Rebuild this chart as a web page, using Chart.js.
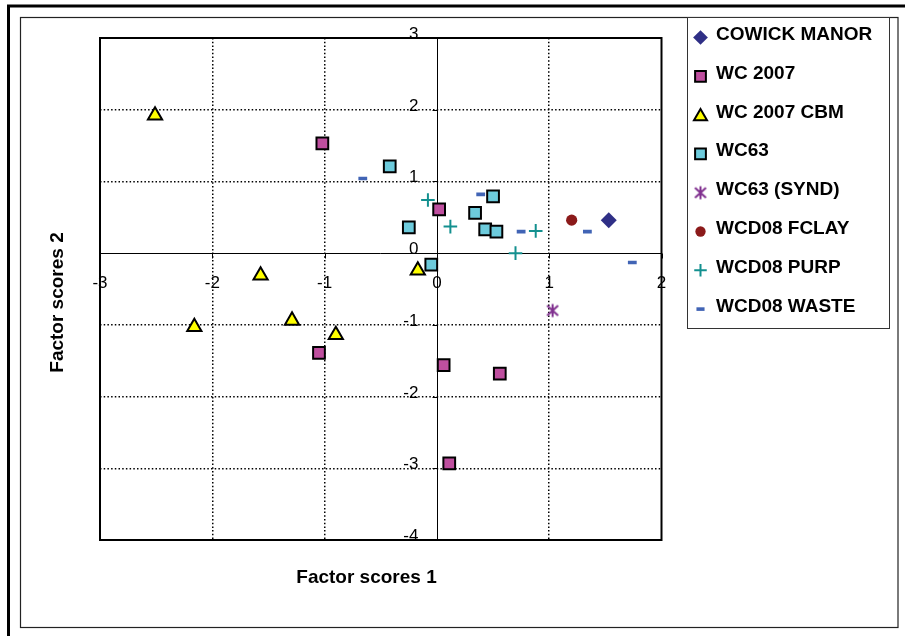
<!DOCTYPE html>
<html>
<head>
<meta charset="utf-8">
<script src="https://cdn.jsdelivr.net/npm/chart.js@4/dist/chart.umd.min.js"></script>
<style>
  html, body { margin: 0; padding: 0; background: #fff; }
  #wrap { position: relative; width: 905px; height: 636px; }
</style>
</head>
<body>
<div id="wrap"><canvas id="c" width="905" height="636"></canvas></div>
<script>
// Factor score pairs per sample group
const seriesNames = ['COWICK MANOR', 'WC 2007', 'WC 2007 CBM', 'WC63', 'WC63 (SYND)', 'WCD08 FCLAY', 'WCD08 PURP', 'WCD08 WASTE'];

const cowickManorX = [1.53];
const cowickManorY = [0.46];

const wc2007X = [-1.02, 0.02, -1.05, 0.06, 0.56, 0.11];
const wc2007Y = [1.53, 0.61, -1.39, -1.56, -1.68, -2.93];

const wc2007CbmX = [-2.51, -1.57, -2.16, -1.29, -0.90, -0.17];
const wc2007CbmY = [1.92, -0.31, -1.03, -0.94, -1.14, -0.24];

const wc63X = [-0.42, -0.25, -0.05, 0.34, 0.43, 0.50, 0.53];
const wc63Y = [1.21, 0.36, -0.16, 0.56, 0.33, 0.79, 0.30];

const wc63SyndX = [1.03];
const wc63SyndY = [-0.80];

const wcd08FclayX = [1.20];
const wcd08FclayY = [0.46];

const wcd08PurpX = [-0.08, 0.12, 0.70, 0.88];
const wcd08PurpY = [0.74, 0.37, 0.00, 0.31];

const wcd08WasteX = [-0.66, 0.39, 0.75, 1.34, 1.74];
const wcd08WasteY = [1.04, 0.82, 0.30, 0.30, -0.13];

const xTickLabels = ['-3', '-2', '-1', '0', '1', '2'];
const yTickLabels = ['3', '2', '1', '0', '-1', '-2', '-3', '-4'];
const xAxisTitle = 'Factor scores 1';
const yAxisTitle = 'Factor scores 2';

const FONT = '"Liberation Sans", Arial, Helvetica, sans-serif';

const toPoints = (xs, ys) => xs.map((x, i) => ({ x: x, y: ys[i] }));

// six-armed asterisk marker
function asteriskMarker(color) {
  const c = document.createElement('canvas');
  c.width = 16; c.height = 16;
  const g = c.getContext('2d');
  g.strokeStyle = color;
  g.lineWidth = 2;
  g.beginPath();
  g.moveTo(2.5, 3); g.lineTo(13.5, 13);
  g.moveTo(13.5, 3); g.lineTo(2.5, 13);
  g.moveTo(8, 1.5); g.lineTo(8, 14.5);
  g.stroke();
  return c;
}

const markerStyles = [
  { pointStyle: 'rectRot', radius: 8, backgroundColor: '#2F2F86', borderColor: '#2F2F86', borderWidth: 0 },
  { pointStyle: 'rect', radius: 8.3, backgroundColor: '#BF4F9F', borderColor: '#000000', borderWidth: 2 },
  { pointStyle: 'triangle', radius: 8.2, backgroundColor: '#FFFF00', borderColor: '#000000', borderWidth: 2 },
  { pointStyle: 'rect', radius: 8.3, backgroundColor: '#6DCBDC', borderColor: '#000000', borderWidth: 2 },
  { pointStyle: asteriskMarker('#80308F'), radius: 8, backgroundColor: '#80308F', borderColor: '#80308F', borderWidth: 0 },
  { pointStyle: 'circle', radius: 5.6, backgroundColor: '#8B1A1A', borderColor: '#8B1A1A', borderWidth: 0 },
  { pointStyle: 'cross', radius: 6.8, backgroundColor: '#13908F', borderColor: '#13908F', borderWidth: 2 },
  { pointStyle: 'line', radius: 4.4, backgroundColor: '#4164B5', borderColor: '#4164B5', borderWidth: 3.6 }
];

const seriesData = [
  toPoints(cowickManorX, cowickManorY),
  toPoints(wc2007X, wc2007Y),
  toPoints(wc2007CbmX, wc2007CbmY),
  toPoints(wc63X, wc63Y),
  toPoints(wc63SyndX, wc63SyndY),
  toPoints(wcd08FclayX, wcd08FclayY),
  toPoints(wcd08PurpX, wcd08PurpY),
  toPoints(wcd08WasteX, wcd08WasteY)
];

const datasets = seriesNames.map((name, i) => {
  const st = markerStyles[i];
  return {
    label: name,
    data: seriesData[i],
    showLine: false,
    order: seriesNames.length - i,
    pointStyle: st.pointStyle,
    pointRadius: st.radius,
    pointHoverRadius: st.radius,
    pointBackgroundColor: st.backgroundColor,
    pointBorderColor: st.borderColor,
    pointBorderWidth: st.borderWidth,
    pointHoverBorderWidth: st.borderWidth,
    backgroundColor: st.backgroundColor,
    borderColor: st.borderColor
  };
});

// dotted grid, hidden on the zero lines and plot edges
const gridColor = (edgeA, edgeB) => (ctx) => {
  const v = ctx.tick ? ctx.tick.value : null;
  return (v === 0 || v === edgeA || v === edgeB) ? 'rgba(0,0,0,0)' : '#000000';
};

const decorPlugin = {
  id: 'decor',
  beforeDatasetsDraw(chart) {
    const { ctx, chartArea: a, scales } = chart;
    const x0 = Math.round(scales.x.getPixelForValue(0)) + 0.5;
    const y0 = Math.round(scales.y.getPixelForValue(0)) + 0.5;
    ctx.save();
    ctx.strokeStyle = '#000';
    ctx.lineWidth = 1;
    ctx.beginPath();
    ctx.moveTo(x0, a.top); ctx.lineTo(x0, a.bottom);
    ctx.moveTo(a.left, y0); ctx.lineTo(a.right, y0);
    xTickLabels.forEach(l => {
      const px = Math.round(scales.x.getPixelForValue(Number(l))) + 0.5;
      ctx.moveTo(px, y0); ctx.lineTo(px, y0 + 5);
    });
    yTickLabels.forEach(l => {
      const py = Math.round(scales.y.getPixelForValue(Number(l))) + 0.5;
      ctx.moveTo(x0 - 5, py); ctx.lineTo(x0, py);
    });
    ctx.stroke();
    ctx.lineWidth = 2;
    ctx.strokeRect(a.left, a.top, a.right - a.left, a.bottom - a.top);
    ctx.restore();
  },
  afterDatasetsDraw(chart) {
    const { ctx, scales } = chart;
    const x0 = scales.x.getPixelForValue(0);
    const y0 = scales.y.getPixelForValue(0);
    ctx.save();
    ctx.fillStyle = '#000';
    ctx.font = '17px ' + FONT;
    ctx.textBaseline = 'alphabetic';
    ctx.textAlign = 'center';
    xTickLabels.forEach(l => {
      ctx.fillText(l, scales.x.getPixelForValue(Number(l)), y0 + 35);
    });
    ctx.textAlign = 'right';
    yTickLabels.forEach(l => {
      ctx.fillText(l, x0 - 18.5, scales.y.getPixelForValue(Number(l)) + 1);
    });
    ctx.restore();
  },
  afterDraw(chart) {
    const { ctx } = chart;
    ctx.save();
    // axis titles
    ctx.fillStyle = '#000';
    ctx.font = 'bold 19px ' + FONT;
    ctx.textAlign = 'center';
    ctx.textBaseline = 'alphabetic';
    ctx.fillText(xAxisTitle, 366.5, 583);
    ctx.save();
    ctx.translate(63, 302.5);
    ctx.rotate(-Math.PI / 2);
    ctx.fillText(yAxisTitle, 0, 0);
    ctx.restore();

    // outer frames
    ctx.strokeStyle = '#000';
    ctx.lineWidth = 3;
    ctx.beginPath();
    ctx.moveTo(7, 6); ctx.lineTo(905, 6);
    ctx.moveTo(8.5, 4.5); ctx.lineTo(8.5, 636);
    ctx.stroke();
    ctx.lineWidth = 1.2;
    ctx.strokeStyle = '#222';
    ctx.strokeRect(20.5, 17.5, 877.5, 610);

    // legend box
    ctx.fillStyle = '#fff';
    ctx.fillRect(687, 17.5, 202, 311);
    ctx.lineWidth = 1;
    ctx.strokeStyle = '#333';
    ctx.strokeRect(687.5, 17.5, 202, 311);

    const helpers = Chart.helpers;
    seriesNames.forEach((name, i) => {
      const base = 40 + 38.8 * i;
      const st = markerStyles[i];
      const my = base - 2.5 + (st.pointStyle === 'triangle' ? 1.5 : 0);
      ctx.save();
      ctx.fillStyle = st.backgroundColor;
      ctx.strokeStyle = st.borderColor;
      ctx.lineWidth = st.borderWidth;
      helpers.drawPoint(ctx, { pointStyle: st.pointStyle, radius: st.radius * 0.92, rotation: 0, borderWidth: st.borderWidth }, 700.5, my);
      ctx.restore();
      ctx.fillStyle = '#000';
      ctx.font = 'bold 19px ' + FONT;
      ctx.textAlign = 'left';
      ctx.fillText(name, 716, base);
    });
    ctx.restore();
  }
};

new Chart(document.getElementById('c'), {
  type: 'scatter',
  data: { datasets: datasets },
  options: {
    responsive: false,
    animation: false,
    events: [],
    layout: { padding: { left: 100, top: 38, right: 243.5, bottom: 96 } },
    plugins: { legend: { display: false }, tooltip: { enabled: false } },
    scales: {
      x: {
        type: 'linear',
        min: -3, max: 2,
        ticks: { display: false, stepSize: 1 },
        grid: { color: gridColor(-3, 2), lineWidth: 1.5, drawTicks: false },
        border: { display: false, dash: [1.5, 2.2] },
        afterFit: s => { s.height = 0; }
      },
      y: {
        type: 'linear',
        min: -4, max: 3,
        ticks: { display: false, stepSize: 1 },
        grid: { color: gridColor(-4, 3), lineWidth: 1.5, drawTicks: false },
        border: { display: false, dash: [1.5, 2.2] },
        afterFit: s => { s.width = 0; }
      }
    }
  },
  plugins: [decorPlugin]
});
</script>
</body>
</html>
